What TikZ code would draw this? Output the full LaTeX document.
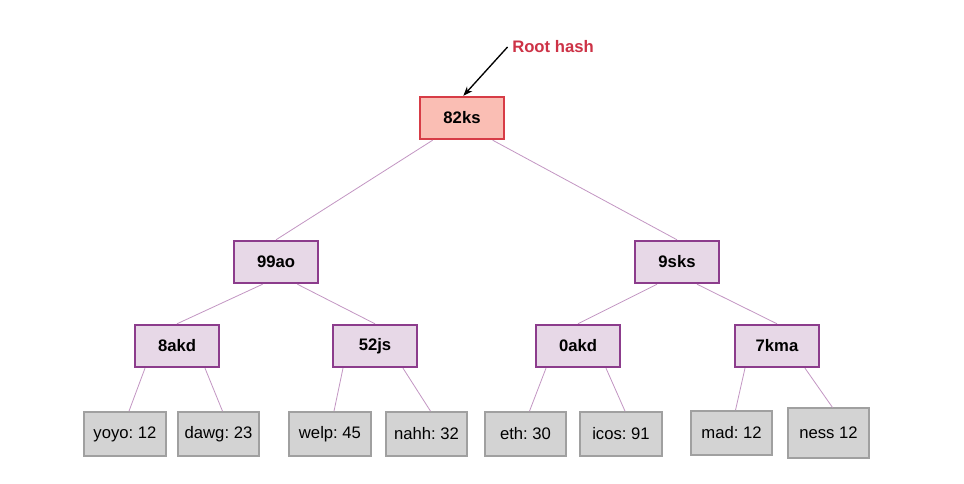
\documentclass[tikz,border=0pt]{standalone}
\usepackage{fontspec}
\setmainfont{Liberation Sans}
\frenchspacing
\usetikzlibrary{arrows.meta}
\definecolor{rootfill}{RGB}{250,190,180}
\definecolor{rootline}{RGB}{215,60,70}
\definecolor{hashfill}{RGB}{231,216,231}
\definecolor{hashline}{RGB}{140,60,140}
\definecolor{leaffill}{RGB}{211,211,211}
\definecolor{leafline}{RGB}{160,160,160}
\definecolor{edgecol}{RGB}{195,150,195}
\definecolor{labelred}{RGB}{205,50,70}

\begin{document}
\begin{tikzpicture}[x=0.75pt,y=-0.75pt,
    hashbox/.style={draw=hashline,fill=hashfill,line width=1.3pt,minimum width=63pt,minimum height=32pt,font=\bfseries\fontsize{12.5}{14}\selectfont},
    rootbox/.style={hashbox,draw=rootline,fill=rootfill},
    leafbox/.style={draw=leafline,fill=leaffill,line width=1.3pt,minimum width=61pt,minimum height=33pt,inner sep=2pt,font=\fontsize{12.5}{14}\selectfont},
    edge/.style={draw=edgecol,line width=0.6pt}]
    \fill[white] (0,0) rectangle (964,484);

    \node[rootbox] (root) at (462,118) {82ks};
    \node[text=labelred,font=\bfseries\fontsize{12.5}{14}\selectfont] (label) at (553,47) {Root hash};

    \node[hashbox] (h0) at (276,262) {99ao};
    \node[hashbox] (h1) at (677,262) {9sks};
    \node[hashbox] (h00) at (177,346) {8akd};
    \node[hashbox] (h01) at (375,346) {52js};
    \node[hashbox] (h10) at (578,346) {0akd};
    \node[hashbox] (h11) at (777,346) {7kma};

    \node[leafbox] (l1) at (125,434) {yoyo: 12};
    \node[leafbox] (l2) at (218.5,434) {dawg: 23};
    \node[leafbox] (l3) at (330,434) {welp: 45};
    \node[leafbox] (l4) at (426.5,434) {nahh: 32};
    \node[leafbox] (l5) at (525.5,434) {eth: 30};
    \node[leafbox] (l6) at (621,434) {icos: 91};
    \node[leafbox] (l7) at (731.5,433) {mad: 12};
    \node[leafbox,minimum height=37pt] (l8) at (828.5,433) {ness 12};

    \draw[-{Stealth[length=7pt]},line width=1pt] (label.west) -- ([xshift=1pt]root.north);

    % tree edges (shifts in pt)
    \foreach \from/\to/\dx in {root/h0/-22,root/h1/23,h0/h00/-10,h0/h01/16,h1/h10/-15,h1/h11/15}
        \draw[edge] ([xshift=\dx pt]\from.south) -- (\to.north);
    \foreach \from/\to/\dx in {h00/l1/-24,h00/l2/21,h01/l3/-24,h01/l4/21,h10/l5/-24,h10/l6/21,h11/l7/-24,h11/l8/21}
        \draw[edge] ([xshift=\dx pt]\from.south) -- ([xshift=3pt]\to.north);
\end{tikzpicture}
\end{document}
